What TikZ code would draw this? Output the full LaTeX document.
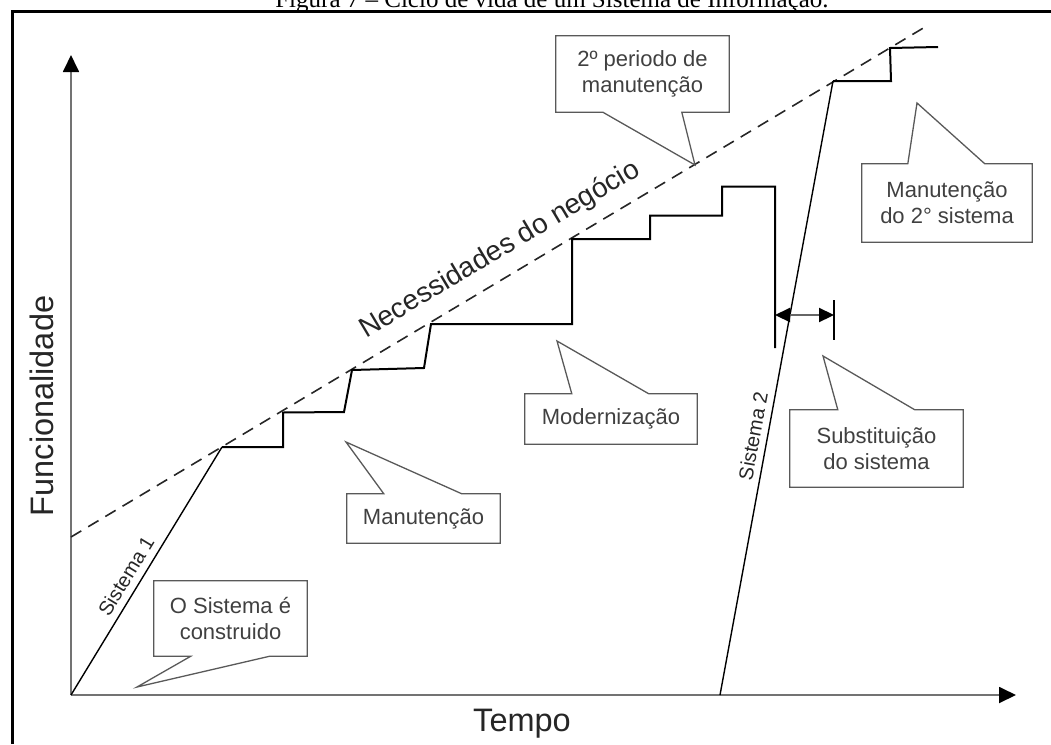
\documentclass[tikz,border=0pt]{standalone}
\usepackage{fontspec}
\setmainfont{Liberation Sans}
\newfontfamily\titlefont{Liberation Serif}
\usetikzlibrary{arrows.meta,calc}
\begin{document}
\begin{tikzpicture}[x=1pt,y=-1pt,
  boxtxt/.style={font=\fontsize{22}{26}\selectfont, text=black!75, align=center, inner sep=0pt},
  callout/.style={draw=black!65, line width=1.3pt, line join=miter},
  axis/.style={draw=black!55, line width=1.8pt},
  stair/.style={draw=black, line width=2pt},
  sysline/.style={draw=black, line width=1.4pt},
  need/.style={draw=black!85, line width=1.6pt, dash pattern=on 12pt off 8pt},
  biglab/.style={font=\fontsize{32.5}{36}\selectfont, text=black!85, inner sep=0pt},
  syslab/.style={font=\fontsize{20}{24}\selectfont, text=black!85, inner sep=0pt},
  bigtip/.style={-{Triangle[length=17pt,width=16pt,color=black]}},
  dimtip/.style={{Triangle[length=15pt,width=14pt,color=black]}-{Triangle[length=15pt,width=14pt,color=black]}}
]
\useasboundingbox (0,0) rectangle (1051,744);

% title (cut by the page top)
\node[anchor=base, font=\titlefont\fontsize{25}{28}\selectfont, inner sep=0pt] (title) at (552,7.5) {Figura 7 – Ciclo de vida de um Sistema de Informação.};

% frame
\draw[line width=3pt] (12,744) -- (12,11.5) -- (1051,11.5);

% axes
\coordinate (O) at (71,695);
\coordinate (ytip) at (71,55);
\coordinate (xtip) at (1016,695);
\draw[axis,bigtip] (O) -- (ytip);
\draw[axis,bigtip] (O) -- (xtip);
\node[biglab, rotate=90, anchor=base] (ylab) at (53,406) {Funcionalidade};
\node[biglab, anchor=base] (xlab) at (522,731) {Tempo};

% business needs
\coordinate (n0) at (71,537);
\coordinate (n1) at (925,27);
\draw[need] (n0) -- (n1);
\node[font=\fontsize{28}{32}\selectfont, text=black!85, rotate=30.8, inner sep=0pt] (needlab) at (500,250) {Necessidades do negócio};

% system 1 and its steps
\coordinate (s1top) at (222,447);
\draw[sysline] (O) -- (s1top);
\node[syslab, rotate=58.7] (s1lab) at (126,576) {Sistema 1};
\coordinate (s1end) at (775,348);
\draw[stair] (s1top) -- (283,447) -- (283,412.5) -- (344,412) -- (352,370) -- (424,368) -- (431,324)
  -- (572,324) -- (572,239) -- (650,239) -- (650,215.5) -- (722,215.5) -- (722,186.5) -- (775,186.5) -- (s1end);

% system 2
\coordinate (s2bot) at (720,695);
\coordinate (s2top) at (833,81);
\draw[sysline] (s2bot) -- (s2top);
\draw[stair] (s2top) -- (891,81) -- (890,48) -- (938,47);
\node[syslab, rotate=79.6] (s2lab) at (753,436) {Sistema 2};

% replacement interval
\coordinate (ra) at (775,315);
\coordinate (rb) at (834,315);
\draw[stair] (834,300) -- (834,340);
\draw[draw=black!60, line width=2.2pt, dimtip] (ra) -- (rb);

% callouts
\node[boxtxt, minimum width=153pt, minimum height=75pt] (cons) at (230.5,618.5) {O Sistema é\\construido};
\coordinate (t1) at (137,687);
\draw[callout] (cons.north west) -- (cons.north east) -- (cons.south east) -- ($(cons.south west)+(116,0)$) -- (t1) -- ($(cons.south west)+(37,0)$) -- (cons.south west) -- cycle;

\node[boxtxt, minimum width=153pt, minimum height=49pt] (man) at (423.5,518.5) {Manutenção};
\coordinate (t2) at (346,442);
\draw[callout] (man.south west) -- (man.south east) -- (man.north east) -- ($(man.north west)+(115,0)$) -- (t2) -- ($(man.north west)+(37,0)$) -- (man.north west) -- cycle;

\node[boxtxt, minimum width=172pt, minimum height=50pt] (mod) at (611,419) {Modernização};
\coordinate (t3) at (557,341);
\draw[callout] (mod.south west) -- (mod.south east) -- (mod.north east) -- ($(mod.north west)+(124,0)$) -- (t3) -- ($(mod.north west)+(47,0)$) -- (mod.north west) -- cycle;

\node[boxtxt, minimum width=173pt, minimum height=76pt] (per2) at (642.5,74) {2º periodo de\\manutenção};
\coordinate (t4) at (695,165);
\draw[callout] (per2.north west) -- (per2.north east) -- (per2.south east) -- ($(per2.south west)+(126,0)$) -- (t4) -- ($(per2.south west)+(47,0)$) -- (per2.south west) -- cycle;

\node[boxtxt, minimum width=170pt, minimum height=78pt] (man2) at (947,203) {Manutenção\\do 2° sistema};
\coordinate (t5) at (917,103);
\draw[callout] (man2.south west) -- (man2.south east) -- (man2.north east) -- ($(man2.north west)+(123,0)$) -- (t5) -- ($(man2.north west)+(46,0)$) -- (man2.north west) -- cycle;

\node[boxtxt, minimum width=173pt, minimum height=77pt] (sub) at (876.5,448.5) {Substituição\\do sistema};
\coordinate (t6) at (823,356);
\draw[callout] (sub.south west) -- (sub.south east) -- (sub.north east) -- ($(sub.north west)+(125,0)$) -- (t6) -- ($(sub.north west)+(48,0)$) -- (sub.north west) -- cycle;
\end{tikzpicture}
\end{document}
